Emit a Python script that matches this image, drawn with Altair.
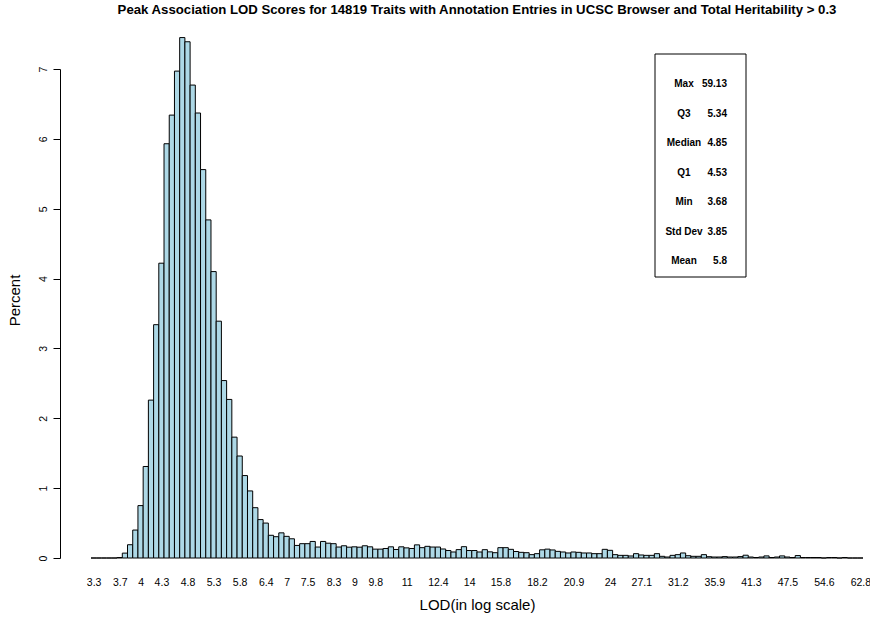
import math
import altair as alt
import pandas as pd

# ---- data (percent of traits per log-LOD bin) ----
percent = [
    0, 0, 0, 0, 0, 0.007,
    0.07, 0.19, 0.40, 0.75, 1.31, 2.26, 3.34, 4.22, 5.93, 6.34, 6.97, 7.45, 7.39, 6.77,
    6.37, 5.56, 4.84, 4.10, 3.39, 2.54, 2.27, 1.73, 1.46, 1.18, 0.96, 0.72, 0.55, 0.50,
    0.325, 0.305, 0.36,
    0.31, 0.275, 0.18, 0.205, 0.205, 0.237, 0.157, 0.237, 0.212, 0.205, 0.157, 0.175,
    0.155, 0.16, 0.155, 0.175, 0.16, 0.127, 0.127, 0.136, 0.16, 0.122, 0.16, 0.145,
    0.136, 0.188, 0.148, 0.167, 0.157, 0.157, 0.129, 0.107, 0.086, 0.12, 0.162, 0.107,
    0.107, 0.086, 0.119,
    0.088, 0.076, 0.148, 0.148, 0.124, 0.093, 0.081, 0.076, 0.048, 0.062, 0.117, 0.127,
    0.115,
    0.095, 0.086, 0.072, 0.086, 0.081, 0.072, 0.072, 0.062, 0.062, 0.124, 0.11, 0.048,
    0.038, 0.038, 0.029, 0.062, 0.043, 0.038, 0.038, 0.062, 0.024, 0.014, 0.038, 0.048,
    0.072, 0.033, 0.024, 0.024, 0.048, 0.019, 0.014,
    0.014, 0.02, 0.014, 0.014, 0.02, 0.04, 0.014, 0.007, 0.014, 0.03, 0.007, 0.014,
    0.03, 0.014, 0.007, 0.035, 0.007, 0.007, 0.007, 0.007, 0, 0.007, 0.007, 0, 0.007,
    0, 0, 0,
]
first_bin_center_ln = 1.20   # natural-log LOD at the centre of the first bin
bin_width_ln = 0.02

tick_labels = ["3.3", "3.7", "4", "4.3", "4.8", "5.3", "5.8", "6.4", "7", "7.5", "8.3",
               "9", "9.8", "11", "12.4", "14", "15.8", "18.2", "20.9", "24", "27.1",
               "31.2", "35.9", "41.3", "47.5", "54.6", "62.8"]
y_ticks = [0, 1, 2, 3, 4, 5, 6, 7]

stat_names = ["Max", "Q3", "Median", "Q1", "Min", "Std Dev", "Mean"]
stat_values = ["59.13", "5.34", "4.85", "4.53", "3.68", "3.85", "5.8"]

title_text = ("Peak Association LOD Scores for 14819 Traits with Annotation Entries "
              "in UCSC Browser and Total Heritability > 0.3")

# ---- tables ----
n = len(percent)
lo = [math.exp(first_bin_center_ln + (i - 0.5) * bin_width_ln) for i in range(n)]
hi = [math.exp(first_bin_center_ln + (i + 0.5) * bin_width_ln) for i in range(n)]
bars = pd.DataFrame({"lo": lo, "hi": hi, "pct": percent})


def tick_pos(label):
    b = round((math.log(float(label)) - first_bin_center_ln) / bin_width_ln)
    return math.exp(first_bin_center_ln + b * bin_width_ln)


tick_values = [tick_pos(t) for t in tick_labels]
stats = pd.DataFrame({"name": stat_names, "val": stat_values, "i": list(range(len(stat_names)))})

FONT = "Liberation Sans"
W, H = 772, 489

hist = alt.Chart(bars).mark_bar(
    fill="#ADD8E6", stroke="black", strokeWidth=1, clip=False
).encode(
    x=alt.X(
        "lo:Q",
        scale=alt.Scale(type="log", domain=[lo[0], hi[-1]], nice=False, zero=False),
        axis=alt.Axis(
            values=tick_values, format=".1~f", title="LOD(in log scale)",
            ticks=False, tickSize=0, domain=False, grid=False,
            labelFlush=False, labelOverlap=False, labelPadding=19,
            labelFontSize=10.5, labelFont=FONT, labelColor="black",
            titleFont=FONT, titleFontSize=15, titleFontWeight="normal",
            titleColor="black", titleBaseline="middle", titleY=46,
        ),
    ),
    x2="hi:Q",
    y=alt.Y(
        "pct:Q",
        scale=alt.Scale(domain=[0, 7], nice=False, zero=True),
        axis=alt.Axis(
            values=y_ticks, format="d", title="Percent", offset=31,
            tickSize=7, tickColor="black", domainColor="black", grid=False,
            labelAngle=270, labelAlign="center", labelBaseline="bottom",
            labelPadding=5, labelFontSize=10.5, labelFont=FONT, labelColor="black",
            labelFlush=False,
            titleFont=FONT, titleFontSize=15, titleFontWeight="normal",
            titleColor="black", titleAngle=270, titleBaseline="middle",
            titleX=-46, titleY=231,
        ),
    ),
    y2=alt.datum(0),
)

box = alt.Chart(pd.DataFrame({"k": [0]})).mark_rect(
    fill="white", fillOpacity=0, stroke="black", strokeWidth=1
).encode(
    x=alt.value(564), x2=alt.value(655), y=alt.value(-15), y2=alt.value(208)
)

stat_base = alt.Chart(stats).transform_calculate(py="15 + datum.i * 29.5")

stat_names_layer = stat_base.mark_text(
    font=FONT, fontSize=10, fontWeight="bold", align="center", baseline="middle", color="black"
).encode(
    x=alt.value(593),
    y=alt.Y("py:Q", scale=None, axis=None),
    text="name:N",
)

stat_vals_layer = stat_base.mark_text(
    font=FONT, fontSize=10, fontWeight="bold", align="right", baseline="middle", color="black"
).encode(
    x=alt.value(636),
    y=alt.Y("py:Q", scale=None, axis=None),
    text="val:N",
)

chart = alt.layer(hist, box, stat_names_layer, stat_vals_layer).properties(
    width=W, height=H,
    title=alt.TitleParams(
        text=title_text, font=FONT, fontSize=13.2, fontWeight="bold",
        anchor="middle", offset=20, color="black",
    ),
    padding={"left": 91, "top": 69, "right": 7, "bottom": 61},
    autosize=alt.AutoSizeParams(type="none"),
).configure(background="white").configure_view(stroke="transparent", strokeWidth=0)

chart.save("out.html", embed_options={"renderer": "svg", "actions": False})
